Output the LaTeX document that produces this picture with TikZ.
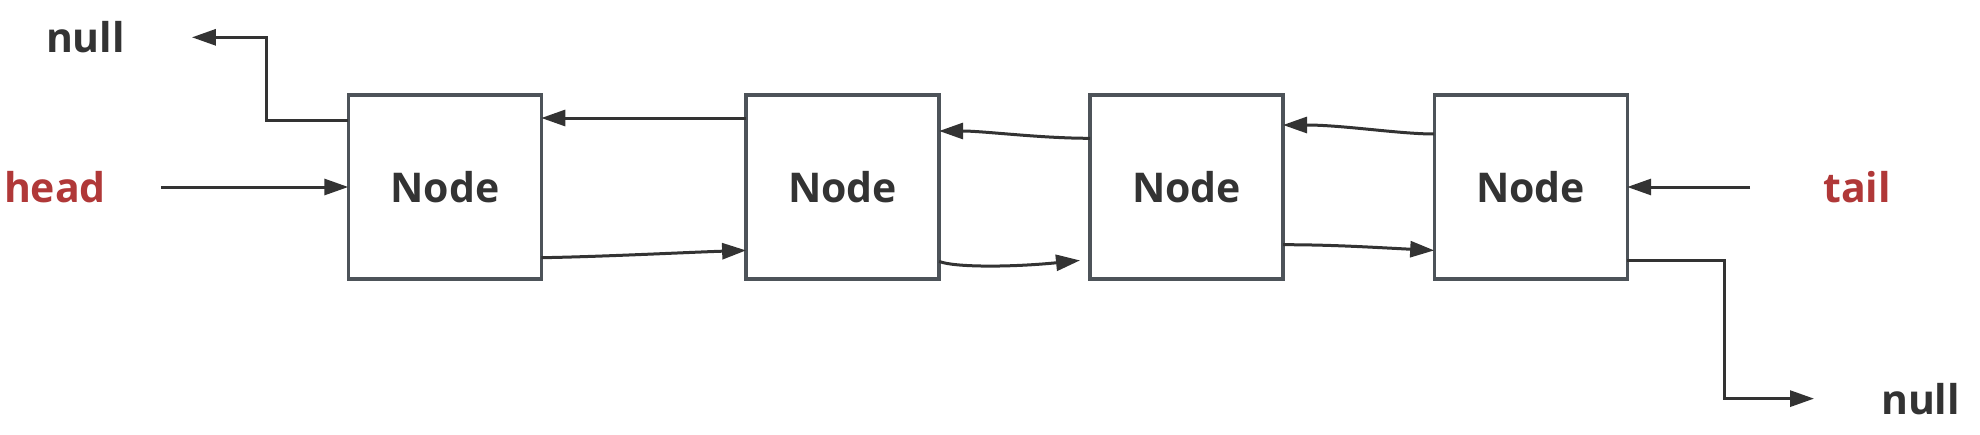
\documentclass[tikz,border=0pt]{standalone}
\usepackage{fontspec}
\setmainfont{Open Sans}
\usetikzlibrary{arrows.meta}
\definecolor{txtdark}{HTML}{333333}
\definecolor{txtred}{HTML}{B03838}
\definecolor{boxline}{HTML}{4D5359}
\definecolor{arrcol}{HTML}{333333}
\begin{document}
\begin{tikzpicture}[x=1pt,y=-1pt,
  lbox/.style={draw=boxline,line width=3.4pt,minimum width=193pt,minimum height=184pt,
    inner sep=0pt,outer sep=0pt,text=txtdark,font=\fontsize{41}{48}\selectfont\bfseries},
  lbl/.style={inner sep=0pt,outer sep=0pt,anchor=base,font=\fontsize{41}{48}\selectfont\bfseries},
  arr/.style={draw=arrcol,line width=3pt,-{Triangle[length=24pt,width=16pt]}}]
\useasboundingbox (0,0) rectangle (1980,434);
\node[lbox] (n1) at (444.8,187) {Node};
\node[lbox] (n2) at (842.6,187) {Node};
\node[lbox] (n3) at (1186.5,187) {Node};
\node[lbox] (n4) at (1530.7,187) {Node};
\node[lbl,text=txtdark] (nullt) at (85.5,52.7) {null};
\node[lbl,text=txtred] (head) at (55,202.7) {head};
\node[lbl,text=txtred] (tail) at (1857,202.5) {tail};
\node[lbl,text=txtdark] (nullb) at (1920.5,414) {null};
% head / tail pointers
\draw[arr] ([xshift=55pt]head.east |- n1.west) -- (n1.west);
\draw[arr] ([xshift=-73pt]tail.west |- n4.east) -- (n4.east);
% prev of first node -> null
\draw[arr] ([yshift=-25.7pt]n1.north west) -- ++(-82,0) |- ([xshift=67pt]nullt.east);
% next of last node -> null
\draw[arr] ([yshift=18.6pt]n4.south east) -- ++(97,0) |- ([xshift=-67pt]nullb.west);
% prev links (top)
\draw[arr] ([yshift=-23pt]n2.north west) -- ([yshift=-23pt]n1.north east);
\draw[arr] ([yshift=-43.3pt]n3.north west) .. controls +(-50,0) and +(45,0) .. ([yshift=-36pt]n2.north east);
\draw[arr] ([yshift=-39pt]n4.north west) .. controls +(-35,0) and +(60,0) .. ([yshift=-30pt]n3.north east);
% next links (bottom)
\draw[arr] ([yshift=21.3pt]n1.south east) .. controls +(60,-1) and +(-60,2) .. ([yshift=28.6pt]n2.south west);
\draw[arr] ([yshift=17.6pt]n2.south east) .. controls +(15,6) and +(-70,7) .. ([xshift=-10pt,yshift=18.6pt]n3.south west);
\draw[arr] ([yshift=34.3pt]n3.south east) .. controls +(50,0) and +(-60,-3) .. ([yshift=28.6pt]n4.south west);
\end{tikzpicture}
\end{document}
